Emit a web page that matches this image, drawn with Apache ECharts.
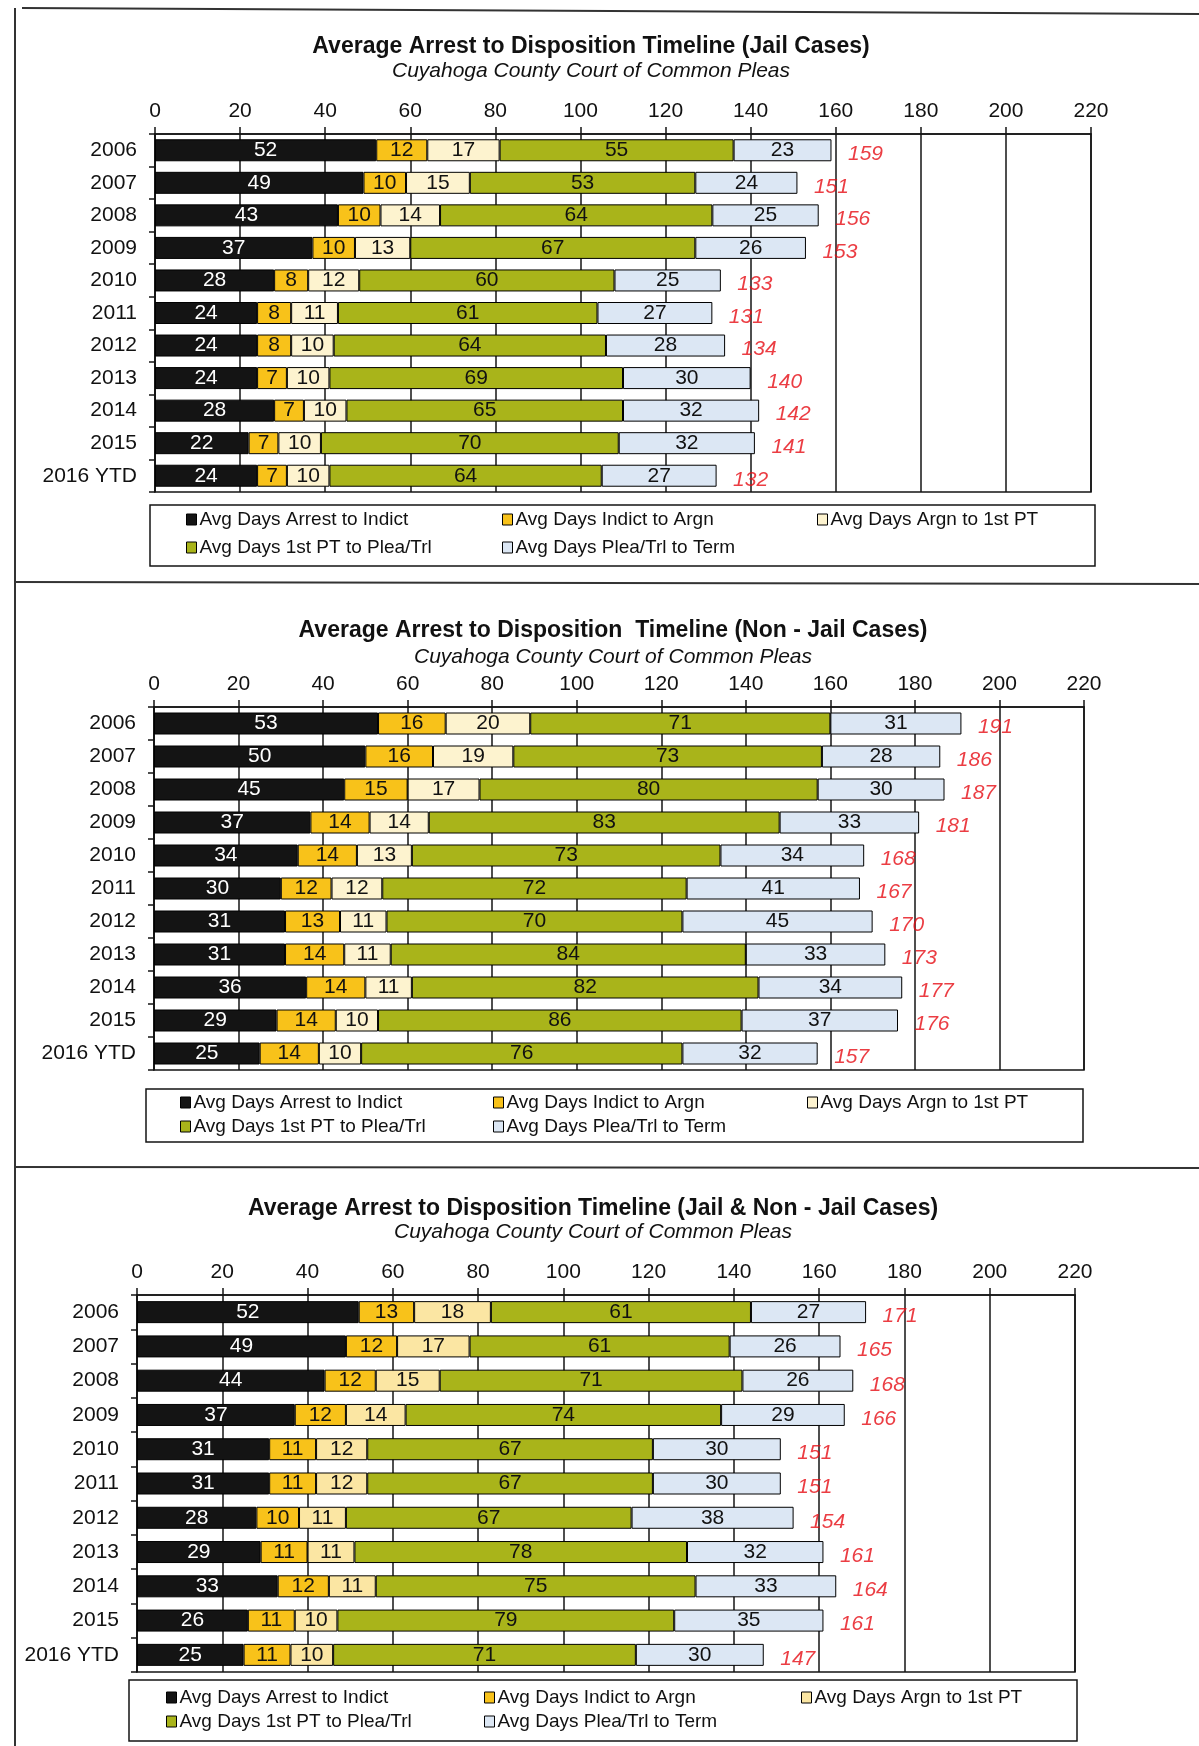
<!DOCTYPE html>
<html>
<head>
<meta charset="utf-8">
<title>Average Arrest to Disposition Timeline</title>
<script src="https://cdn.jsdelivr.net/npm/echarts@6/dist/echarts.min.js"></script>
<style>
    html, body { margin: 0; padding: 0; background: #fff; }
    #chart { width: 1199px; height: 1746px; }
</style>
</head>
<body>
<div id="chart"></div>
<script>
    // categories
    var years = ['2006', '2007', '2008', '2009', '2010', '2011', '2012', '2013', '2014', '2015', '2016 YTD'];
    var seriesNames = ['Avg Days Arrest to Indict', 'Avg Days Indict to Argn', 'Avg Days Argn to 1st PT',
        'Avg Days 1st PT to Plea/Trl', 'Avg Days Plea/Trl to Term'];

    // Jail cases
    var jailArrestIndict = [52, 49, 43, 37, 28, 24, 24, 24, 28, 22, 24];
    var jailIndictArgn   = [12, 10, 10, 10, 8, 8, 8, 7, 7, 7, 7];
    var jailArgnPT       = [17, 15, 14, 13, 12, 11, 10, 10, 10, 10, 10];
    var jailPTPlea       = [55, 53, 64, 67, 60, 61, 64, 69, 65, 70, 64];
    var jailPleaTerm     = [23, 24, 25, 26, 25, 27, 28, 30, 32, 32, 27];
    var jailTotals       = [159, 151, 156, 153, 133, 131, 134, 140, 142, 141, 132];

    // Non - Jail cases
    var nonArrestIndict = [53, 50, 45, 37, 34, 30, 31, 31, 36, 29, 25];
    var nonIndictArgn   = [16, 16, 15, 14, 14, 12, 13, 14, 14, 14, 14];
    var nonArgnPT       = [20, 19, 17, 14, 13, 12, 11, 11, 11, 10, 10];
    var nonPTPlea       = [71, 73, 80, 83, 73, 72, 70, 84, 82, 86, 76];
    var nonPleaTerm     = [31, 28, 30, 33, 34, 41, 45, 33, 34, 37, 32];
    var nonTotals       = [191, 186, 187, 181, 168, 167, 170, 173, 177, 176, 157];

    // Jail & Non - Jail cases
    var allArrestIndict = [52, 49, 44, 37, 31, 31, 28, 29, 33, 26, 25];
    var allIndictArgn   = [13, 12, 12, 12, 11, 11, 10, 11, 12, 11, 11];
    var allArgnPT       = [18, 17, 15, 14, 12, 12, 11, 11, 11, 10, 10];
    var allPTPlea       = [61, 61, 71, 74, 67, 67, 67, 78, 75, 79, 71];
    var allPleaTerm     = [27, 26, 26, 29, 30, 30, 38, 32, 33, 35, 30];
    var allTotals       = [171, 165, 168, 166, 151, 151, 154, 161, 164, 161, 147];

    var FONT = '"Liberation Sans", Arial, sans-serif';
    var INK = '#151515';

    var panels = [
        {
            title: 'Average Arrest to Disposition Timeline (Jail Cases)',
            data: [jailArrestIndict, jailIndictArgn, jailArgnPT, jailPTPlea, jailPleaTerm],
            totals: jailTotals,
            colors: ['#141414', '#f8c21a', '#fdf3cf', '#a9b41a', '#dce7f4'],
            grid: { left: 155, top: 134, width: 936, height: 358 },
            titleX: 591, titleY: 47, subY: 71,
            box: [150, 505, 1095, 566], rows: [520, 548], cols: [186, 502, 817]
        },
        {
            title: 'Average Arrest to Disposition  Timeline (Non - Jail Cases)',
            data: [nonArrestIndict, nonIndictArgn, nonArgnPT, nonPTPlea, nonPleaTerm],
            totals: nonTotals,
            colors: ['#141414', '#f8c21a', '#fdf3cf', '#a9b41a', '#dce7f4'],
            grid: { left: 154, top: 707, width: 930, height: 363 },
            titleX: 613, titleY: 631, subY: 657,
            box: [146, 1089, 1083, 1142], rows: [1103, 1127], cols: [180, 493, 807]
        },
        {
            title: 'Average Arrest to Disposition Timeline (Jail & Non - Jail Cases)',
            data: [allArrestIndict, allIndictArgn, allArgnPT, allPTPlea, allPleaTerm],
            totals: allTotals,
            colors: ['#141414', '#f8c21a', '#fbe6a3', '#a9b41a', '#dce7f4'],
            grid: { left: 137, top: 1295, width: 938, height: 377 },
            titleX: 593, titleY: 1209, subY: 1232,
            box: [129, 1680, 1077, 1741], rows: [1698, 1722], cols: [166, 484, 801]
        }
    ];

    var option = {
        backgroundColor: '#fff',
        animation: false,
        textStyle: { fontFamily: FONT },
        grid: [], xAxis: [], yAxis: [], series: [], legend: [], graphic: []
    };

    // page frame
    [[22, 8, 1199, 14], [15, 8, 15, 1746], [15, 582, 1199, 584], [15, 1167, 1199, 1168]].forEach(function (l) {
        option.graphic.push({
            type: 'line', shape: { x1: l[0], y1: l[1], x2: l[2], y2: l[3] },
            style: { stroke: '#333', lineWidth: 2 }
        });
    });

    panels.forEach(function (p, i) {
        option.grid.push({
            left: p.grid.left, top: p.grid.top, width: p.grid.width, height: p.grid.height,
            show: true, borderColor: INK, borderWidth: 1.5, containLabel: false
        });
        option.xAxis.push({
            gridIndex: i, type: 'value', position: 'top', min: 0, max: 220, interval: 20,
            axisLine: { show: true, lineStyle: { color: INK, width: 1.5 } },
            axisTick: { show: true, length: 7, lineStyle: { color: INK, width: 1.5 } },
            splitLine: { show: true, lineStyle: { color: INK, width: 1.5 } },
            axisLabel: { color: '#111', fontSize: 21, margin: 12, fontFamily: FONT }
        });
        option.yAxis.push({
            gridIndex: i, type: 'category', inverse: true, data: years,
            axisLine: { show: true, lineStyle: { color: INK, width: 1.5 } },
            axisTick: { show: true, length: 6, lineStyle: { color: INK, width: 1.5 } },
            axisLabel: { color: '#111', fontSize: 21, margin: 18, fontFamily: FONT }
        });

        p.data.forEach(function (vals, k) {
            option.series.push({
                name: seriesNames[k], type: 'bar', stack: 'st' + i,
                xAxisIndex: i, yAxisIndex: i, barWidth: 22,
                itemStyle: { color: p.colors[k], borderColor: '#000', borderWidth: 1 },
                label: {
                    show: true, position: 'inside', fontSize: 21, fontFamily: FONT,
                    color: k === 0 ? '#fff' : '#111'
                },
                data: vals
            });
        });

        // red totals to the right of each bar
        option.series.push({
            name: 'Total', type: 'scatter', xAxisIndex: i, yAxisIndex: i,
            symbolSize: 1, itemStyle: { color: 'rgba(0,0,0,0)' },
            label: {
                show: true, position: 'right', distance: 16, offset: [0, 4],
                color: '#e60c14', fontSize: 21, fontStyle: 'italic', fontFamily: FONT,
                formatter: function (d) { return d.value[0]; }
            },
            data: p.totals.map(function (t, j) { return [t, years[j]]; })
        });

        // title + subtitle
        option.graphic.push({
            type: 'text', x: p.titleX, y: p.titleY,
            style: { text: p.title, fill: '#111', fontSize: 23, fontWeight: 'bold', fontFamily: FONT,
                align: 'center', verticalAlign: 'middle' }
        });
        option.graphic.push({
            type: 'text', x: p.titleX, y: p.subY,
            style: { text: 'Cuyahoga County Court of Common Pleas', fill: '#111', fontSize: 21,
                fontStyle: 'italic', fontFamily: FONT, align: 'center', verticalAlign: 'middle' }
        });

        // legend box
        option.graphic.push({
            type: 'rect',
            shape: { x: p.box[0], y: p.box[1], width: p.box[2] - p.box[0], height: p.box[3] - p.box[1] },
            style: { fill: 'none', stroke: INK, lineWidth: 1.5 }
        });

        // legend items laid out 3 + 2
        var spots = [[0, 0], [1, 0], [2, 0], [0, 1], [1, 1]];
        seriesNames.forEach(function (name, k) {
            option.legend.push({
                data: [name], selectedMode: false, padding: 0, icon: 'rect',
                left: p.cols[spots[k][0]], top: p.rows[spots[k][1]] - 10,
                itemWidth: 10, itemHeight: 11, itemGap: 0,
                itemStyle: { color: p.colors[k], borderColor: '#000', borderWidth: 1 },
                textStyle: { fontSize: 19, color: '#111', fontFamily: FONT, padding: [0, 0, 0, -2] }
            });
        });
    });

    var chart = echarts.init(document.getElementById('chart'));
    chart.setOption(option);
</script>
</body>
</html>
